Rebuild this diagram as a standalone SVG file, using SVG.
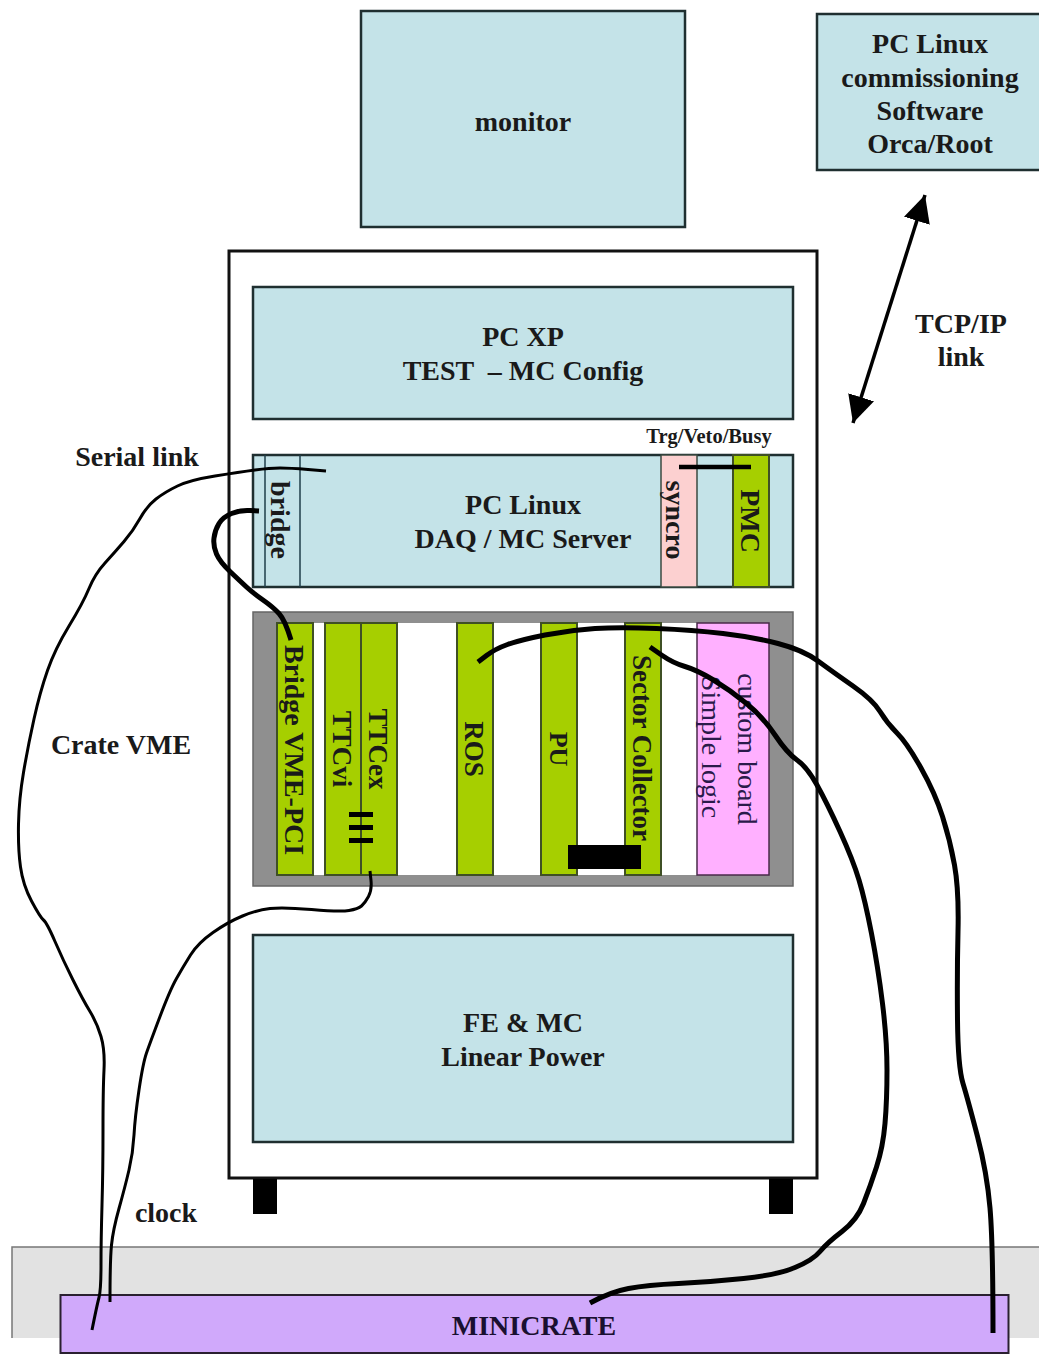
<svg xmlns="http://www.w3.org/2000/svg" width="1039" height="1354" viewBox="0 0 1039 1354">
<style>
text{font-family:"Liberation Serif","Times New Roman",serif;font-weight:bold;font-size:28px;fill:#1a1a1a;text-anchor:middle;white-space:pre}
.box{fill:#c4e3e8;stroke:#1f2f30;stroke-width:2.500}
.slot{fill:#a6cf00;stroke:#3f5025;stroke-width:2}
.wire{fill:none;stroke:#000;stroke-linecap:butt;stroke-linejoin:round}
.rot{dominant-baseline:central}
.reg{font-weight:normal;fill:#2a1a4a}
</style>
<defs>
<marker id="ah" viewBox="0 0 10 10" refX="10" refY="5" markerWidth="27" markerHeight="27" markerUnits="userSpaceOnUse" orient="auto-start-reverse"><path d="M0 0L10 5L0 10Z" fill="#000"/></marker>
</defs>
<g id="floor"><rect x="12" y="1247" width="1030" height="91" fill="#e2e2e2"/><path d="M12 1338V1247H1039" fill="none" stroke="#777" stroke-width="1.500"/></g>
<g id="minicrate"><rect x="60.500" y="1295" width="948" height="58" fill="#d0a9fb" stroke="#2a2030" stroke-width="2"/><text x="534" y="1335" style="fill:#1a1030">MINICRATE</text></g>
<g id="monitor"><rect class="box" x="361" y="11" width="324" height="216"/><text x="523" y="131">monitor</text></g>
<g id="pc-commissioning"><rect class="box" x="817" y="14" width="228" height="156"/>
<text x="930" y="53">PC Linux</text><text x="930" y="87">commissioning</text><text x="930" y="120">Software</text><text x="930" y="153">Orca/Root</text></g>
<g id="rack"><rect x="229" y="251" width="588" height="927" fill="#fff" stroke="#111" stroke-width="3"/>
<rect x="253" y="1179" width="24" height="35" fill="#000"/><rect x="769" y="1179" width="24" height="35" fill="#000"/></g>
<g id="pc-xp"><rect class="box" x="253" y="287" width="540" height="132"/><text x="523" y="346">PC XP</text><text x="523" y="380" xml:space="preserve">TEST  – MC Config</text></g>
<g id="pc-linux"><rect class="box" x="253" y="455" width="540" height="132"/>
<path d="M265 455V587M300 455V587" stroke="#1f3f4a" stroke-width="1.500"/>
<text x="523" y="514">PC Linux</text><text x="523" y="548">DAQ / MC Server</text></g>
<g id="bridge"><text class="rot" transform="translate(280,520) rotate(90)">bridge</text></g>
<g id="syncro"><rect x="661" y="455" width="36" height="132" fill="#fcd0d0" stroke="#3a4a40" stroke-width="1.500"/><text class="rot" transform="translate(675,520) rotate(90)">syncro</text></g>
<g id="pmc"><rect class="slot" x="733" y="455" width="36" height="132"/><text class="rot" transform="translate(750,521) rotate(90)">PMC</text></g>
<g id="crate"><rect x="253" y="612" width="540" height="274" fill="#8f8f8f" stroke="#666" stroke-width="1.500"/><rect x="277" y="623" width="492" height="252" fill="#fff"/></g>
<g id="bridge-vme"><rect class="slot" x="277" y="623" width="36" height="252"/><text class="rot" transform="translate(294,750) rotate(90)">Bridge VME-PCI</text></g>
<g id="ttcvi"><rect class="slot" x="325" y="623" width="36" height="252"/><text class="rot" transform="translate(342,749) rotate(90)" style="font-size:27px">TTCvi</text></g>
<g id="ttcex"><rect class="slot" x="361" y="623" width="36" height="252"/><text class="rot" transform="translate(378,749) rotate(90)" style="font-size:27px">TTCex</text></g>
<g id="ros"><rect class="slot" x="457" y="623" width="36" height="252"/><text class="rot" transform="translate(474,749) rotate(90)" style="font-size:27px">ROS</text></g>
<g id="pu"><rect class="slot" x="541" y="623" width="36" height="252"/><text class="rot" transform="translate(558,749) rotate(90)" style="font-size:26px">PU</text></g>
<g id="sector"><rect class="slot" x="625" y="623" width="36" height="252"/><text class="rot" transform="translate(642,748) rotate(90)" style="font-size:27px">Sector Collector</text></g>
<g id="custom"><rect x="697" y="623" width="72" height="252" fill="#ffb0ff" stroke="#4a2a4a" stroke-width="1.500"/>
<text class="rot reg" transform="translate(747,749) rotate(90)">custom board</text>
<text class="rot reg" transform="translate(711,747) rotate(90)">Simple logic</text></g>
<g id="fe-power"><rect class="box" x="253" y="935" width="540" height="207"/><text x="523" y="1032">FE &amp; MC</text><text x="523" y="1066">Linear Power</text></g>
<g id="labels">
<text x="137" y="466">Serial link</text><text x="121" y="754">Crate VME</text><text x="166" y="1222">clock</text>
<text x="961" y="333">TCP/IP</text><text x="961" y="366">link</text>
<text x="709" y="443" style="font-size:20.500px">Trg/Veto/Busy</text></g>
<g id="connectors">
<path class="wire" stroke-width="3.500" marker-start="url(#ah)" marker-end="url(#ah)" d="M925 195L853 423"/>
<path class="wire" stroke-width="4.500" d="M679 467H751"/>
<path class="wire" stroke-width="3" d="M326 471L308 469.500Q290 468 280 468Q270 468 255 470Q240 472 215 476Q190 480 177.500 486Q165 492 156 499Q147 506 140 518.500Q133 531 124 541.500Q115 552 105 563Q95 574 89 588.500Q83 603 69 626Q55 649 47.500 670.500Q40 692 34 719Q28 746 23.500 772.500Q19 799 18.500 824Q18 849 20.500 867Q23 885 31.500 901Q40 917 43.500 920Q47 923 55 941.500Q63 960 73 980Q83 1000 90 1011.500Q97 1023 101 1036.500Q105 1050 104 1070Q103 1090 103 1130Q103 1170 102 1205Q101 1240 101 1265Q101 1290 99 1297.500Q97 1305 92 1330"/>
<path class="wire" stroke-width="5" d="M259 511L249.500 510.500Q240 510 231.500 513.500Q223 517 219 523.500Q215 530 214 538Q213 546 216.500 554Q220 562 230 571.500Q240 581 246.500 587Q253 593 263 600Q273 607 279 613.500Q285 620 291 640"/>
<path class="wire" stroke-width="3" d="M370 871L371 880.500Q372 890 368.500 896.500Q365 903 361.500 906Q358 909 349 910.500Q340 912 311.500 909.500Q283 907 270 908.500Q257 910 242.500 916Q228 922 213 932.500Q198 943 190.500 955Q183 967 176.500 978.500Q170 990 160 1016.500Q150 1043 146.500 1053Q143 1063 139 1090Q135 1117 134 1135Q133 1153 129 1170Q125 1187 119 1208.500Q113 1230 111.500 1245Q110 1260 110 1302"/>
<path class="wire" stroke-width="5" d="M478 662L486.500 655.500Q495 649 507.500 644.500Q520 640 545 635Q570 630 595 628.500Q620 627 656.500 628.500Q693 630 723 633.500Q753 637 778 643.500Q803 650 818 661Q833 672 853 686Q873 700 880 711.500Q887 723 897 733Q907 743 921 768Q935 793 942.500 816.500Q950 840 954.500 865Q959 890 958 931.500Q957 973 957.500 1020Q958 1067 963 1083.500Q968 1100 977.500 1136.500Q987 1173 990 1208Q993 1243 993 1333"/>
<path class="wire" stroke-width="5" d="M650 647L661.500 655Q673 663 685 666.500Q697 670 713.500 680Q730 690 746.500 703.500Q763 717 775 735Q787 753 797 760Q807 767 817 785Q827 803 840 831.500Q853 860 859 880Q865 900 871.500 933.500Q878 967 882.500 1003.500Q887 1040 887 1070Q887 1100 885 1123.500Q883 1147 876.500 1167Q870 1187 863.500 1203.500Q857 1220 842 1231.500Q827 1243 820 1251.500Q813 1260 795 1267.500Q777 1275 743.500 1278.500Q710 1282 678.500 1283.500Q647 1285 628.500 1288.500Q610 1292 590 1303"/>
<rect x="349" y="812" width="24" height="5" fill="#000"/><rect x="349" y="825" width="24" height="5" fill="#000"/><rect x="349" y="838" width="24" height="5" fill="#000"/>
<rect x="568" y="845" width="73" height="24" fill="#000"/>
</g>
</svg>
